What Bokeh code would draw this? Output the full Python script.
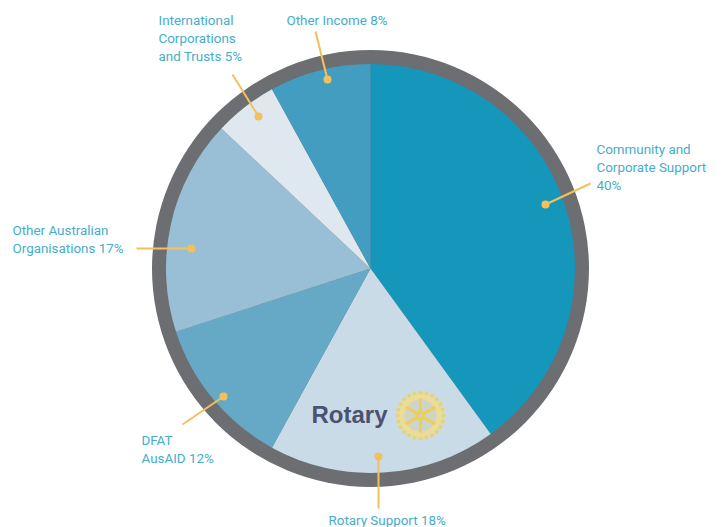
import math
from bokeh.plotting import figure
from bokeh.models import Range1d
from bokeh.core.properties import value
from bokeh.embed import file_html
from bokeh.resources import INLINE

categories = ["Community and Corporate Support", "Rotary Support", "DFAT AusAID",
              "Other Australian Organisations", "International Corporations and Trusts", "Other Income"]
shares = [40, 18, 12, 17, 5, 8]
colors = ["#1596BB", "#CADBE8", "#66A9C6", "#99BFD6", "#DFE8EF", "#429DC0"]

label_lines = [
    ["Community and", "Corporate Support", "40%"],
    ["Rotary Support 18%"],
    ["DFAT", "AusAID 12%"],
    ["Other Australian", "Organisations 17%"],
    ["International", "Corporations", "and Trusts 5%"],
    ["Other Income 8%"],
]
label_x = [596, 328, 141, 12, 158, 286]
label_y = [149, 520, 440, 230, 20, 20]
line_step = 18

lead_x0 = [590, 378, 182, 136, 232, 315]
lead_y0 = [183, 508, 424, 248, 74, 31]
lead_x1 = [545, 378, 223, 191, 258, 327]
lead_y1 = [204, 456, 396, 248, 116, 79]

W, H = 724, 527
CX, CY, R_OUT, R_IN = 370, 268, 218.5, 204.5
FONT = "Roboto"
TEXT = "#45ADCB"
GOLD = "#F4C05A"
Y = lambda v: H - v

p = figure(width=W, height=H, output_backend="svg", toolbar_location=None,
           x_range=Range1d(0, W), y_range=Range1d(0, H),
           min_border=0, outline_line_color=None, background_fill_color="white", border_fill_color="white")
p.axis.visible = False
p.grid.visible = False

p.circle([CX], [Y(CY)], radius=R_OUT, fill_color="#6D6E71", line_color=None)

cum = 0
total = sum(shares)
for s, c in zip(shares, colors):
    a0 = math.pi / 2 - 2 * math.pi * cum / total
    a1 = math.pi / 2 - 2 * math.pi * (cum + s) / total
    p.wedge([CX], [Y(CY)], radius=R_IN, start_angle=a1, end_angle=a0,
            fill_color=c, line_color=None)
    cum += s

p.segment(lead_x0, [Y(v) for v in lead_y0], lead_x1, [Y(v) for v in lead_y1],
          line_color=GOLD, line_width=2)
p.scatter(lead_x1, [Y(v) for v in lead_y1], size=8, fill_color=GOLD, line_color=None)

for lines, x, y in zip(label_lines, label_x, label_y):
    for i, t in enumerate(lines):
        p.text([x], [Y(y + i * line_step)], text=[t], text_font=value(FONT), text_font_size="13.4px",
               text_color=TEXT, text_align="left", text_baseline="middle", text_font_style="normal")

# Rotary logo
p.text([311], [Y(414)], text=["Rotary"], text_font=value("Liberation Sans"), text_font_size="24px",
       text_color="#4C5170", text_align="left", text_baseline="middle", text_font_style="bold")
GX, GY = 420, 415
GEAR = "#EBDD96"
p.circle([GX], [Y(GY)], radius=25, fill_color="#DDD9B8", line_color=None, fill_alpha=0.5)
p.annulus([GX], [Y(GY)], inner_radius=16, outer_radius=22, fill_color=GEAR, line_color=None)
for k in range(24):
    a = k * 2 * math.pi / 24
    p.rect([GX + 23 * math.cos(a)], [Y(GY) + 23 * math.sin(a)], width=3.5, height=3.5, angle=a,
           fill_color="#E6D27A", line_color=None)
p.circle([GX], [Y(GY)], radius=16, fill_color="#C9CFC8", line_color=None, fill_alpha=0.6)
for k in range(6):
    a = k * math.pi / 3 + math.pi / 2
    p.segment([GX], [Y(GY)], [GX + 17 * math.cos(a)], [Y(GY) + 17 * math.sin(a)],
              line_color="#EFCF4E", line_width=3)
p.circle([GX], [Y(GY)], radius=5, fill_color="#EFCF4E", line_color=None)
p.circle([GX], [Y(GY)], radius=2.2, fill_color="#C9CFC8", line_color=None)

open("out.html", "w").write(file_html(p, INLINE))
